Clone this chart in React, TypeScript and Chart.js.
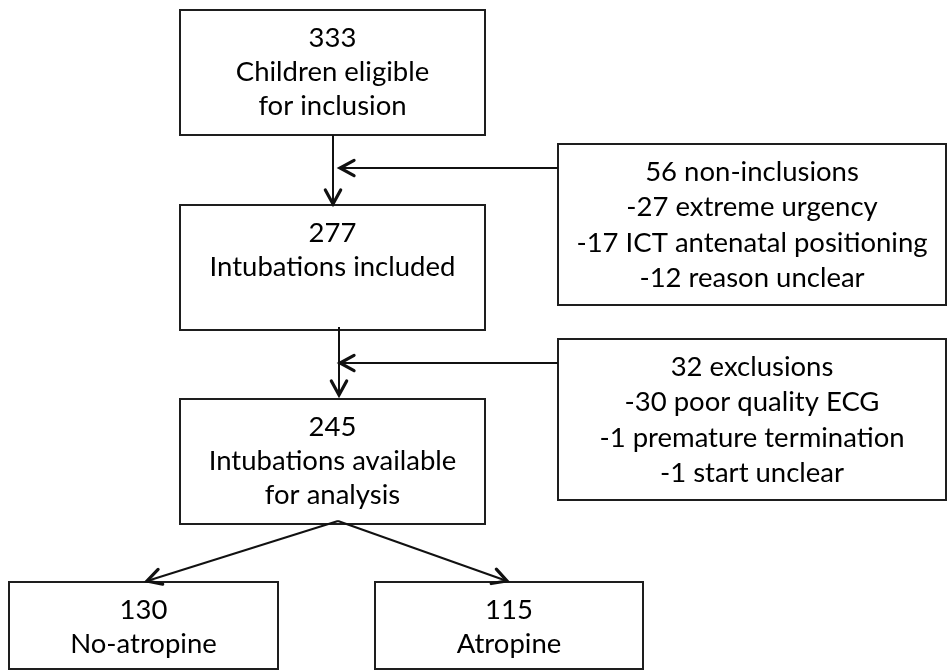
import React, { useEffect, useRef } from "react";
import { Chart, registerables } from "chart.js";

Chart.register(...registerables);

// ---- data ----
const counts = [333, 277, 245, 56, 32, 130, 115];
const captions: string[][] = [
  ["Children eligible", "for inclusion"],
  ["Intubations included"],
  ["Intubations available", "for analysis"],
  ["-27 extreme urgency", "-17 ICT antenatal positioning", "-12 reason unclear"],
  ["-30 poor quality ECG", "-1 premature termination", "-1 start unclear"],
  ["No-atropine"],
  ["Atropine"],
];
const headSuffix = ["", "", "", " non-inclusions", " exclusions", "", ""];

// ---- layout (data units = page coordinates) ----
const boxLeft = [180, 180, 180, 558, 558, 9, 375];
const boxRight = [485, 485, 485, 946, 946, 278, 643];
const boxTop = [10, 205, 399, 144, 339, 582, 582];
const boxBottom = [135, 330, 524, 305, 500, 669, 669];

// arrows: [x0, y0, x1, y1]  (arrowhead at x1,y1)
const arrowFromX = [333, 558, 339, 558, 338, 338];
const arrowFromY = [135, 168, 327, 363, 521, 521];
const arrowToX = [333, 340, 339, 340, 147, 507];
const arrowToY = [204, 168, 395, 363, 581, 581];

const FONT = "Lato, 'Open Sans', sans-serif";

const flowPlugin = {
  id: "flow",
  afterDraw(chart: any) {
    const ctx = chart.ctx as CanvasRenderingContext2D;
    const xs = chart.scales.x;
    const ys = chart.scales.y;
    const px = (v: number) => xs.getPixelForValue(v);
    const py = (v: number) => ys.getPixelForValue(v);
    ctx.save();
    // boxes
    ctx.strokeStyle = "#1e1e1e";
    ctx.lineWidth = 2;
    for (let i = 0; i < counts.length; i++) {
      const x0 = px(boxLeft[i]);
      const x1 = px(boxRight[i]);
      const y0 = py(boxTop[i]);
      const y1 = py(boxBottom[i]);
      ctx.strokeRect(x0, y0, x1 - x0, y1 - y0);
      const lines = [String(counts[i]) + headSuffix[i], ...captions[i]];
      ctx.fillStyle = "#000";
      ctx.font = `27.5px ${FONT}`;
      ctx.textAlign = "center";
      ctx.textBaseline = "middle";
      const cx = (x0 + x1) / 2;
      const step = i === 3 || i === 4 ? 35.5 : 34;
      lines.forEach((t, k) => {
        ctx.fillText(t, cx, y0 + 28 + k * step);
      });
    }
    // arrows
    ctx.strokeStyle = "#111";
    for (let i = 0; i < arrowFromX.length; i++) {
      const x0 = px(arrowFromX[i]);
      const y0 = py(arrowFromY[i]);
      const x1 = px(arrowToX[i]);
      const y1 = py(arrowToY[i]);
      ctx.lineWidth = 2;
      ctx.beginPath();
      ctx.moveTo(x0, y0);
      ctx.lineTo(x1, y1);
      ctx.stroke();
      const ang = Math.atan2(y1 - y0, x1 - x0);
      const len = 16;
      const spread = 0.5;
      ctx.lineWidth = 3.2;
      ctx.lineCap = "round";
      ctx.lineJoin = "miter";
      ctx.beginPath();
      ctx.moveTo(x1 - len * Math.cos(ang - spread), y1 - len * Math.sin(ang - spread));
      ctx.lineTo(x1, y1);
      ctx.lineTo(x1 - len * Math.cos(ang + spread), y1 - len * Math.sin(ang + spread));
      ctx.stroke();
      ctx.lineCap = "butt";
    }
    ctx.restore();
  },
};

export default function App() {
  const ref = useRef<HTMLCanvasElement>(null);
  useEffect(() => {
    document.body.style.margin = "0";
    const canvas = ref.current!;
    const chart = new Chart(canvas, {
      type: "scatter",
      data: { datasets: [{ data: [], pointRadius: 0 }] },
      options: {
        animation: false,
        responsive: false,
        maintainAspectRatio: false,
        layout: { padding: 0 },
        plugins: { legend: { display: false }, tooltip: { enabled: false } },
        scales: {
          x: { type: "linear", min: 0, max: 948, display: false },
          y: { type: "linear", min: 0, max: 670, reverse: true, display: false },
        },
      },
      plugins: [flowPlugin],
    });
    return () => chart.destroy();
  }, []);
  return (
    <div style={{ width: 948, height: 670, background: "#fff" }}>
      <canvas ref={ref} width={948} height={670} style={{ display: "block" }} />
    </div>
  );
}
